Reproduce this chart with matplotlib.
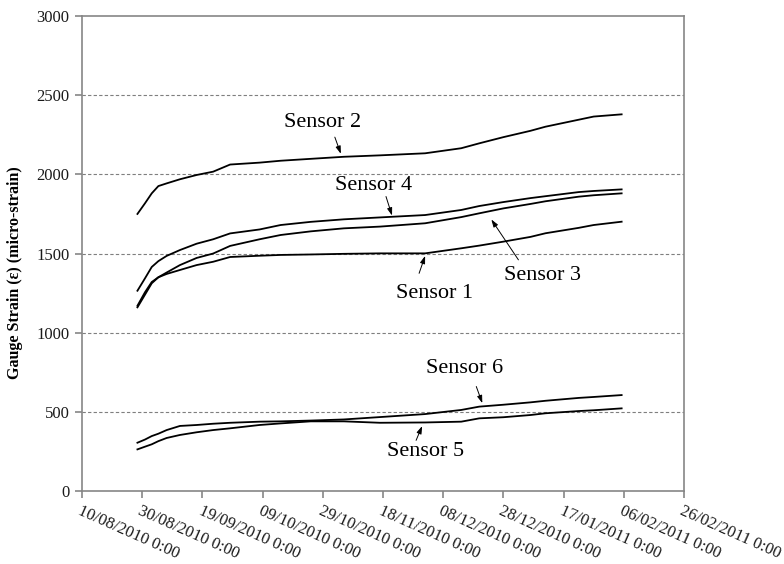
import matplotlib
matplotlib.use("Agg")
import matplotlib.pyplot as plt
import pandas as pd

# --- Data ---
dates = pd.to_datetime([
    "2010-08-28 10:00", "2010-08-30 22:00", "2010-09-02 04:00", "2010-09-04 09:00",
    "2010-09-07 03:00", "2010-09-11 13:00", "2010-09-17 02:00", "2010-09-22 14:00",
    "2010-09-28 05:00", "2010-10-08 00:00", "2010-10-15 00:00", "2010-10-25 00:00",
    "2010-11-05 00:00", "2010-11-17 00:00", "2010-12-02 00:00", "2010-12-14 00:00",
    "2010-12-20 00:00", "2010-12-28 00:00", "2011-01-06 00:00", "2011-01-11 00:00",
    "2011-01-22 00:00", "2011-01-27 00:00", "2011-02-05 07:00",
], format="ISO8601")

sensor_1 = [1160, 1240, 1312, 1350, 1371, 1396, 1427, 1448, 1478, 1486, 1491, 1494,
            1498, 1501, 1501, 1533, 1550, 1575, 1605, 1628, 1662, 1680, 1701]
sensor_2 = [1750, 1817, 1880, 1926, 1943, 1969, 1996, 2017, 2062, 2074, 2086, 2098,
            2111, 2120, 2133, 2165, 2196, 2235, 2275, 2301, 2345, 2365, 2379]
sensor_3 = [1170, 1255, 1320, 1350, 1380, 1427, 1472, 1500, 1548, 1590, 1617, 1640,
            1659, 1670, 1691, 1730, 1754, 1785, 1813, 1830, 1859, 1868, 1880]
sensor_4 = [1265, 1343, 1415, 1452, 1485, 1522, 1562, 1590, 1627, 1652, 1680, 1700,
            1716, 1728, 1743, 1775, 1800, 1825, 1850, 1862, 1888, 1895, 1905]
sensor_5 = [263, 280, 295, 315, 335, 354, 371, 385, 396, 417, 427, 440,
            440, 431, 433, 438, 459, 466, 480, 491, 505, 510, 522]
sensor_6 = [305, 325, 347, 362, 385, 411, 417, 425, 431, 438, 440, 445,
            452, 467, 486, 512, 533, 545, 560, 570, 588, 594, 606]

series = [sensor_1, sensor_2, sensor_3, sensor_4, sensor_5, sensor_6]

# label text, text position, arrow tail, arrow head (date, strain)
labels = [
    ("Sensor 1", ("2010-12-05", 1245), ("2010-11-30", 1375), ("2010-12-02", 1485)),
    ("Sensor 2", ("2010-10-29", 2330), ("2010-11-02", 2235), ("2010-11-04", 2130)),
    ("Sensor 3", ("2011-01-10", 1360), ("2011-01-02", 1460), ("2010-12-24", 1715)),
    ("Sensor 4", ("2010-11-15", 1930), ("2010-11-19", 1860), ("2010-11-21", 1740)),
    ("Sensor 5", ("2010-12-02", 250), ("2010-11-29", 320), ("2010-12-01", 410)),
    ("Sensor 6", ("2010-12-15", 775), ("2010-12-19", 660), ("2010-12-21", 555)),
]

x_start = pd.Timestamp("2010-08-10")
x_end = pd.Timestamp("2011-02-26")
x_ticks = pd.date_range(x_start, x_end, freq="20D")
y_ticks = [0, 500, 1000, 1500, 2000, 2500, 3000]

plt.rcParams["font.family"] = ["Liberation Serif", "DejaVu Serif"]

fig = plt.figure(figsize=(7.84, 5.64), dpi=100)
ax = fig.add_axes([0.1046, 0.1294, 0.7678, 0.8422])

spine_col = "#868686"
grid_col = "#7f7f7f"

for y in y_ticks[1:-1]:
    ax.axhline(y, color=grid_col, linestyle=(0, (3, 2)), linewidth=0.8, zorder=1)

for vals in series:
    ax.plot(dates, vals, color="black", linewidth=1.3, zorder=3)

for name, txt, tail, head in labels:
    ax.text(pd.Timestamp(txt[0]), txt[1], name, fontsize=16,
            ha="center", va="center", zorder=4)
    ax.annotate("", xy=(pd.Timestamp(head[0]), head[1]),
                xytext=(pd.Timestamp(tail[0]), tail[1]),
                arrowprops=dict(arrowstyle="-|>,head_length=0.45,head_width=0.15",
                                color="black", linewidth=0.7,
                                shrinkA=0, shrinkB=0),
                zorder=4)

ax.set_xlim(x_start, x_end)
ax.set_ylim(0, 3000)
ax.set_yticks(y_ticks)
ax.set_xticks(x_ticks)
ax.set_xticklabels([f"{d:%d/%m/%Y} {d.hour}:{d:%M}" for d in x_ticks],
                   rotation=-24, ha="left", va="top", rotation_mode="anchor",
                   fontsize=11.5)

for s in ax.spines.values():
    s.set_color(spine_col)
    s.set_linewidth(1.2)

ax.tick_params(axis="both", direction="out", length=5, width=1.2,
               color=spine_col, labelsize=12, labelcolor="#1a1a1a")
ax.tick_params(axis="y", pad=4)
ax.tick_params(axis="x", pad=4)

ax.set_ylabel("Gauge Strain (\u03b5) (micro-strain)", fontsize=11.5,
              fontweight="bold")
ax.yaxis.set_label_coords(-0.098, 0.46)

plt.savefig("out.png", dpi=100)
